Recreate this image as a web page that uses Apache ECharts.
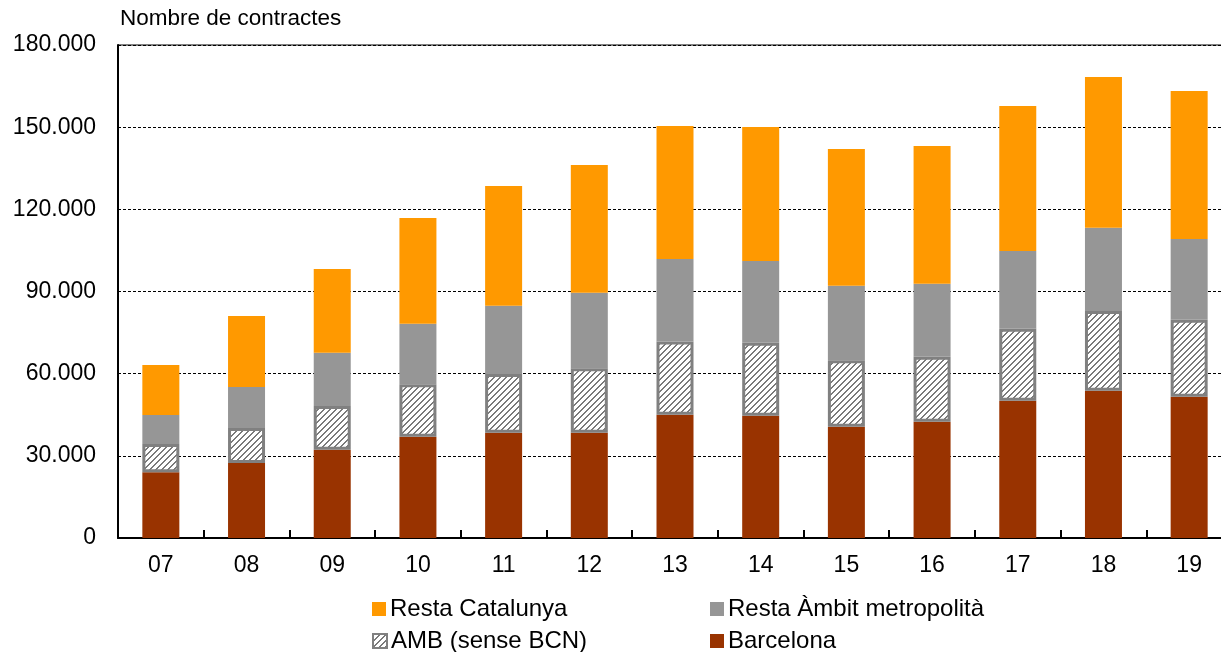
<!DOCTYPE html>
<html>
<head>
<meta charset="utf-8">
<script src="https://cdn.jsdelivr.net/npm/echarts@6/dist/echarts.min.js"></script>
<style>
  html, body { margin: 0; padding: 0; background: #fff; overflow: hidden; }
  /* the plot runs past the right edge of the page, so the canvas is wider than the view */
  #chart { width: 1240px; height: 652px; }
</style>
</head>
<body>
<div id="chart"></div>
<script>
// Years (two-digit labels)
const years = ['07', '08', '09', '10', '11', '12', '13', '14', '15', '16', '17', '18', '19'];

// Number of contracts by territory (stacked segments)
const barcelona      = [24000, 27400, 32200, 37000, 38400, 38400, 45000, 44600, 40600, 42400, 50100, 53800, 51600];
const ambSenseBcn    = [10300, 12800, 16000, 19100, 21500, 23600, 26700, 26700, 24300, 23800, 26300, 29100, 28100];
const restaAmbit     = [10600, 14900, 19400, 22100, 24900, 27500, 30200, 29800, 27200, 26600, 28400, 30400, 29500];
const restaCatalunya = [18300, 26000, 30600, 38600, 43700, 46700, 48500, 49000, 49900, 50300, 52900, 55000, 54000];

const FONT = 'Liberation Sans, Arial, sans-serif';

// Diagonal hatch tile for the AMB segment
function hatchTile() {
  const c = document.createElement('canvas');
  c.width = 6; c.height = 6;
  const ctx = c.getContext('2d');
  ctx.fillStyle = '#ffffff';
  ctx.fillRect(0, 0, 6, 6);
  ctx.fillStyle = '#7a7a7a';
  for (let y = 0; y < 6; y++) {
    for (let x = 0; x < 6; x++) {
      if ((x + y) % 6 < 2) ctx.fillRect(x, y, 1, 1);
    }
  }
  return c;
}

function fmt(v) {
  return String(v).replace(/\B(?=(\d{3})+(?!\d))/g, '.');
}

const chart = echarts.init(document.getElementById('chart'), null, { renderer: 'canvas' });

function legendAt(name, left, top) {
  return {
    data: [name],
    left: left, top: top,
    orient: 'horizontal',
    icon: 'rect',
    itemWidth: 14, itemHeight: 14,
    itemGap: 0,
    padding: 0,
    selectedMode: false,
    textStyle: { fontFamily: FONT, fontSize: 24, color: '#000', lineHeight: 28, padding: [0, 0, 0, -1] }
  };
}

const option = {
  animation: false,
  backgroundColor: '#ffffff',
  title: {
    text: 'Nombre de contractes',
    left: 120, top: 7,
    padding: 0,
    textStyle: { fontFamily: FONT, fontSize: 22.5, fontWeight: 'normal', color: '#000' }
  },
  legend: [
    legendAt('Resta Catalunya', 372, 595),
    legendAt('Resta Àmbit metropolità', 710, 595),
    legendAt('AMB (sense BCN)', 372, 627),
    legendAt('Barcelona', 710, 627)
  ],
  grid: {
    left: 118, top: 45, width: 1114, height: 493,
    show: true,
    borderColor: '#000', borderWidth: 1,
    backgroundColor: 'transparent',
    containLabel: false
  },
  xAxis: {
    type: 'category',
    data: years,
    axisLine: { show: true, lineStyle: { color: '#000', width: 2 } },
    axisTick: { show: true, inside: true, length: 8, lineStyle: { color: '#000', width: 2 } },
    axisLabel: { fontFamily: FONT, fontSize: 23, color: '#000', margin: 16 },
    splitLine: { show: false }
  },
  yAxis: {
    type: 'value',
    min: 0, max: 180000, interval: 30000,
    axisLine: { show: true, lineStyle: { color: '#000', width: 2 } },
    axisTick: { show: false },
    axisLabel: { fontFamily: FONT, fontSize: 23, color: '#000', margin: 22, formatter: fmt },
    splitLine: { show: true, lineStyle: { color: '#000', width: 1, type: [3, 2] } }
  },
  series: [
    {
      name: 'Barcelona', type: 'bar', stack: 'total', data: barcelona,
      barWidth: 37,
      itemStyle: { color: '#993300' }
    },
    {
      name: 'AMB (sense BCN)', type: 'bar', stack: 'total', data: ambSenseBcn,
      barWidth: 37,
      itemStyle: { color: { image: hatchTile(), repeat: 'repeat' }, borderColor: '#808080', borderWidth: 3 }
    },
    {
      name: 'Resta Àmbit metropolità', type: 'bar', stack: 'total', data: restaAmbit,
      barWidth: 37,
      itemStyle: { color: '#969696' }
    },
    {
      name: 'Resta Catalunya', type: 'bar', stack: 'total', data: restaCatalunya,
      barWidth: 37,
      itemStyle: { color: '#FF9900' }
    }
  ]
};

chart.setOption(option);
</script>
</body>
</html>
